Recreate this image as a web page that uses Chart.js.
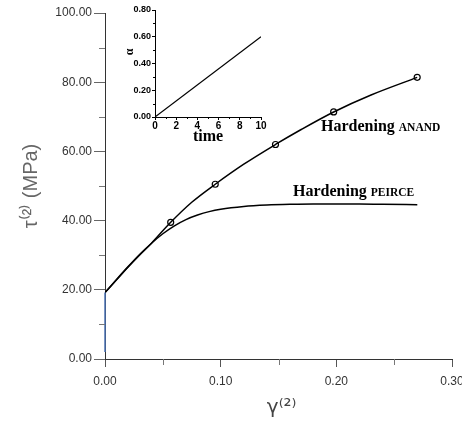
<!DOCTYPE html>
<html>
<head>
<meta charset="utf-8">
<script src="https://cdn.jsdelivr.net/npm/chart.js@4.4.1/dist/chart.umd.min.js"></script>
<style>
  html, body { margin: 0; padding: 0; background: #fff; overflow: hidden; width: 462px; height: 425px; }
  #main { position: absolute; left: 0; top: 0; }
  #inset { position: absolute; left: 100px; top: 0; }
</style>
</head>
<body>
<canvas id="main" width="480" height="425"></canvas>
<canvas id="inset" width="200" height="150"></canvas>
<script>
// ---- data ----
// main chart: shear stress tau(2) vs shear strain gamma(2)
var peirceX = [0, 0.01, 0.02, 0.03, 0.04, 0.05, 0.06, 0.07, 0.08, 0.09, 0.10, 0.12, 0.14, 0.16, 0.18, 0.20, 0.22, 0.24, 0.27];
var peirceY = [19.2, 23.0, 26.7, 30.2, 33.4, 36.2, 38.5, 40.3, 41.6, 42.6, 43.3, 44.1, 44.5, 44.7, 44.8, 44.8, 44.8, 44.7, 44.6];

var anandX = [0, 0.01, 0.02, 0.03, 0.04, 0.0568, 0.075, 0.0953, 0.12, 0.1474, 0.17, 0.1977, 0.23, 0.2699];
var anandY = [19.2, 22.9, 26.6, 30.1, 33.4, 39.5, 45.3, 50.5, 56.3, 62.0, 66.4, 71.4, 76.3, 81.4];

// circle markers on the ANAND curve
var markX = [0.0568, 0.0953, 0.1474, 0.1977, 0.2699];
var markY = [39.5, 50.5, 62.0, 71.4, 81.4];

// short blue start segment along the y axis
var startX = [0, 0];
var startY = [2, 19.2];

var xTicksMain = [0, 0.1, 0.2, 0.3];
var yTicksMain = [0, 20, 40, 60, 80, 100];

// inset: alpha vs time
var timeVals = [0, 10];
var alphaVals = [0, 0.6];

function pts(xs, ys) {
  return xs.map(function (x, i) { return { x: x, y: ys[i] }; });
}

// minor ticks drawn on the scales (library has no minor-tick option)
function minorTicks(xMinor, yMinor, xLen, yLen, color) {
  return {
    id: 'minorTicks',
    afterDraw: function (chart) {
      var c = chart.ctx, xs = chart.scales.x, ys = chart.scales.y;
      c.save();
      c.strokeStyle = color;
      c.lineWidth = 1;
      c.beginPath();
      yMinor.forEach(function (v) {
        var py = Math.round(ys.getPixelForValue(v)) + 0.5;
        c.moveTo(xs.left - yLen, py); c.lineTo(xs.left, py);
      });
      xMinor.forEach(function (v) {
        var px = Math.round(xs.getPixelForValue(v)) + 0.5;
        c.moveTo(px, ys.bottom); c.lineTo(px, ys.bottom + xLen);
      });
      c.stroke();
      c.restore();
    }
  };
}

// curve labels
var curveLabels = {
  id: 'curveLabels',
  afterDraw: function (chart) {
    var c = chart.ctx;
    c.save();
    c.fillStyle = '#000';
    c.textBaseline = 'alphabetic';
    function lbl(x, y, big, small) {
      c.font = 'bold 16px "Liberation Serif", "Times New Roman", serif';
      c.fillText(big, x, y);
      var w = c.measureText(big + ' ').width;
      c.font = 'bold 11.5px "Liberation Serif", "Times New Roman", serif';
      c.fillText(small, x + w, y);
    }
    lbl(321, 131, 'Hardening', 'ANAND');
    lbl(293, 196, 'Hardening', 'PEIRCE');
    c.restore();
  }
};

var tickFont = { family: '"Liberation Sans", Arial, sans-serif', size: 12 };

new Chart(document.getElementById('main'), {
  type: 'scatter',
  data: {
    datasets: [
      {
        label: 'start',
        data: pts(startX, startY),
        showLine: true,
        clip: false,
        borderColor: '#4a72b5',
        borderWidth: 1.5,
        pointRadius: 0
      },
      {
        label: 'Hardening PEIRCE',
        data: pts(peirceX, peirceY),
        showLine: true,
        cubicInterpolationMode: 'monotone',
        borderColor: '#000',
        borderWidth: 1.5,
        pointRadius: 0
      },
      {
        label: 'Hardening ANAND',
        data: pts(anandX, anandY),
        showLine: true,
        cubicInterpolationMode: 'monotone',
        borderColor: '#000',
        borderWidth: 1.5,
        pointRadius: 0
      },
      {
        label: 'ANAND points',
        data: pts(markX, markY),
        showLine: false,
        pointStyle: 'circle',
        pointRadius: 3,
        pointBorderWidth: 1.2,
        pointBorderColor: '#000',
        pointBackgroundColor: 'rgba(255,255,255,0)'
      }
    ]
  },
  options: {
    responsive: false,
    animation: false,
    devicePixelRatio: 1,
    layout: { padding: { left: 0, top: 13, right: 28, bottom: 0 } },
    plugins: { legend: { display: false }, tooltip: { enabled: false } },
    scales: {
      x: {
        type: 'linear',
        min: 0, max: 0.3,
        afterBuildTicks: function (s) { s.ticks = xTicksMain.map(function (v) { return { value: v }; }); },
        afterFit: function (s) { s.height = 66; },
        ticks: {
          color: '#333', font: tickFont, padding: 7,
          maxRotation: 0,
          callback: function (v) { return Number(v).toFixed(2); }
        },
        grid: { drawOnChartArea: false, drawTicks: true, tickLength: 8, tickColor: '#555' },
        border: { display: true, color: '#333', width: 1 },
        title: {
          display: true, text: ' γ⁽²⁾', color: '#444',
          font: { family: '"DejaVu Sans", "Liberation Sans", sans-serif', size: 20 },
          padding: { top: 0, bottom: 5 }
        }
      },
      y: {
        type: 'linear',
        min: 0, max: 100,
        afterBuildTicks: function (s) { s.ticks = yTicksMain.map(function (v) { return { value: v }; }); },
        afterFit: function (s) { s.width = 105; },
        ticks: {
          color: '#333', font: tickFont, padding: 2,
          callback: function (v) { return Number(v).toFixed(2); }
        },
        grid: { drawOnChartArea: false, drawTicks: true, tickLength: 11, tickColor: '#666' },
        border: { display: true, color: '#333', width: 1 },
        title: {
          display: true, text: 'τ⁽²⁾ (MPa)', color: '#666',
          font: { family: '"Liberation Sans", Arial, sans-serif', size: 20 },
          padding: { top: 19, bottom: 0 }
        }
      }
    }
  },
  plugins: [minorTicks([0.05, 0.15, 0.25], [10, 30, 50, 70, 90], 6, 6, '#777'), curveLabels]
});

// inset alpha label
var alphaLabel = {
  id: 'alphaLabel',
  afterDraw: function (chart) {
    var c = chart.ctx;
    c.save();
    c.translate(30, 52);
    c.rotate(-Math.PI / 2);
    c.fillStyle = '#000';
    c.font = 'bold 12px "Liberation Serif", "Times New Roman", serif';
    c.textAlign = 'center';
    c.textBaseline = 'middle';
    c.fillText('α', 0, 0);
    c.restore();
  }
};

var insetFont = { family: '"Liberation Sans", Arial, sans-serif', size: 9, weight: 'bold' };

new Chart(document.getElementById('inset'), {
  type: 'scatter',
  data: {
    datasets: [{
      label: 'alpha',
      data: pts(timeVals, alphaVals),
      showLine: true,
      borderColor: '#000',
      borderWidth: 1.2,
      pointRadius: 0
    }]
  },
  options: {
    responsive: false,
    animation: false,
    devicePixelRatio: 1,
    layout: { padding: { left: 0, top: 10, right: 39, bottom: 0 } },
    plugins: { legend: { display: false }, tooltip: { enabled: false } },
    scales: {
      x: {
        type: 'linear', min: 0, max: 10,
        ticks: { stepSize: 2, color: '#000', font: { family: insetFont.family, size: 10, weight: 'bold' }, padding: 0, maxRotation: 0 },
        afterFit: function (s) { s.height = 33; },
        grid: { drawOnChartArea: false, tickLength: 3, tickColor: '#000' },
        border: { display: true, color: '#000', width: 1 },
        title: {
          display: true, text: 'time', color: '#000',
          font: { family: '"Liberation Serif", "Times New Roman", serif', size: 16, weight: 'bold' },
          padding: { top: 0, bottom: 4 }
        }
      },
      y: {
        type: 'linear', min: 0, max: 0.8,
        ticks: {
          stepSize: 0.2, color: '#000', font: insetFont, padding: 1,
          callback: function (v) { return Number(v).toFixed(2); }
        },
        afterFit: function (s) { s.width = 55; },
        grid: { drawOnChartArea: false, tickLength: 3, tickColor: '#000' },
        border: { display: true, color: '#000', width: 1 }
      }
    }
  },
  plugins: [minorTicks([1, 3, 5, 7, 9], [0.1, 0.3, 0.5, 0.7], 2, 2, '#000'), alphaLabel]
});
</script>
</body>
</html>
